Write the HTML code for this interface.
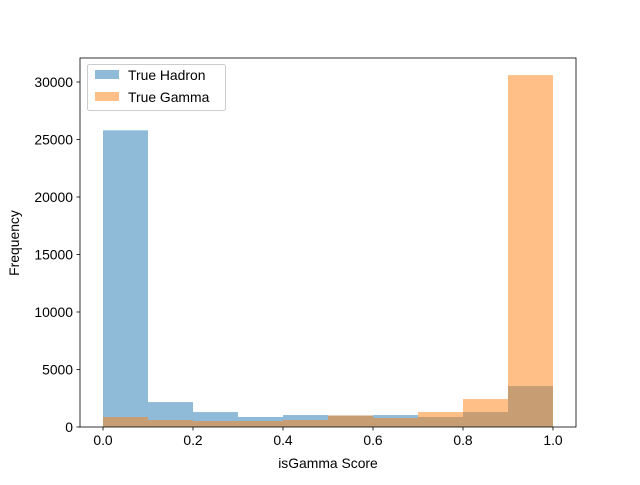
<!DOCTYPE html>
<html><head><meta charset="utf-8"><style>
body{margin:0;background:#fff}
svg text{font-family:"Liberation Sans","DejaVu Sans",sans-serif;fill:#000}
</style></head><body>
<svg id="chart" width="640" height="480">
<g id="bars"></g>
<g id="axes"></g>
</svg>
<script>
const binEdges=[0,0.1,0.2,0.3,0.4,0.5,0.6,0.7,0.8,0.9,1.0];
const hadronCounts=[25800,2170,1300,870,1040,1000,1040,870,1300,3560];
const gammaCounts=[870,610,520,520,610,1000,780,1300,2430,30600];
const xTicks=[0,0.2,0.4,0.6,0.8,1.0];
const xTickLabels=["0.0","0.2","0.4","0.6","0.8","1.0"];
const yTicks=[0,5000,10000,15000,20000,25000,30000];
const yTickLabels=["0","5000","10000","15000","20000","25000","30000"];
const NS="http://www.w3.org/2000/svg";
const L=80,R=576,T=58,B=427;
const xs=v=>103+v*450;
const ys=v=>427-v*0.0115;
function mk(t,a,p){const e=document.createElementNS(NS,t);for(const k in a)e.setAttribute(k,a[k]);p.appendChild(e);return e;}
const bars=document.getElementById('bars'),axes=document.getElementById('axes');
function series(counts,color,name){
  counts.forEach((c,i)=>{
    const x0=xs(binEdges[i]),x1=xs(binEdges[i+1]);
    const r=mk('rect',{x:x0,y:ys(c),width:x1-x0,height:ys(0)-ys(c),fill:color,'fill-opacity':0.5},bars);
    
    
  });
}
series(hadronCounts,'#1f77b4','hadron');
series(gammaCounts,'#ff7f0e','gamma');
const frame=mk('rect',{x:L,y:T,width:R-L,height:B-T,fill:'none',stroke:'#000','stroke-width':0.8},axes);


xTicks.forEach((v,i)=>{
  mk('line',{x1:xs(v),x2:xs(v),y1:B,y2:B+3.5,stroke:'#000','stroke-width':0.8},axes);
  const t=mk('text',{x:xs(v),y:B+18,'text-anchor':'middle','font-size':13.9},axes);
  t.textContent=xTickLabels[i];
  
  
});
yTicks.forEach((v,i)=>{
  mk('line',{x1:L-3.5,x2:L,y1:ys(v),y2:ys(v),stroke:'#000','stroke-width':0.8},axes);
  const t=mk('text',{x:L-7,y:ys(v)+5,'text-anchor':'end','font-size':13.9},axes);
  t.textContent=yTickLabels[i];
  
  
});
</script>
<svg style="position:absolute;left:0;top:0" width="640" height="480">
<text x="328" y="468" text-anchor="middle" font-size="13.9">isGamma Score</text>
<text transform="translate(19,243) rotate(-90)" text-anchor="middle" font-size="13.9">Frequency</text>
<g>
<rect x="87.5" y="64.5" width="138" height="46" rx="2" fill="#fff" fill-opacity="0.8" stroke="#ccc"/>
<rect x="95" y="70" width="24" height="9" fill="#1f77b4" fill-opacity="0.5"/>
<text x="128" y="80" font-size="13.9">True Hadron</text>
<rect x="95" y="92" width="24" height="9" fill="#ff7f0e" fill-opacity="0.5"/>
<text x="128" y="102" font-size="13.9">True Gamma</text>
</g>
</svg>
</body></html>
